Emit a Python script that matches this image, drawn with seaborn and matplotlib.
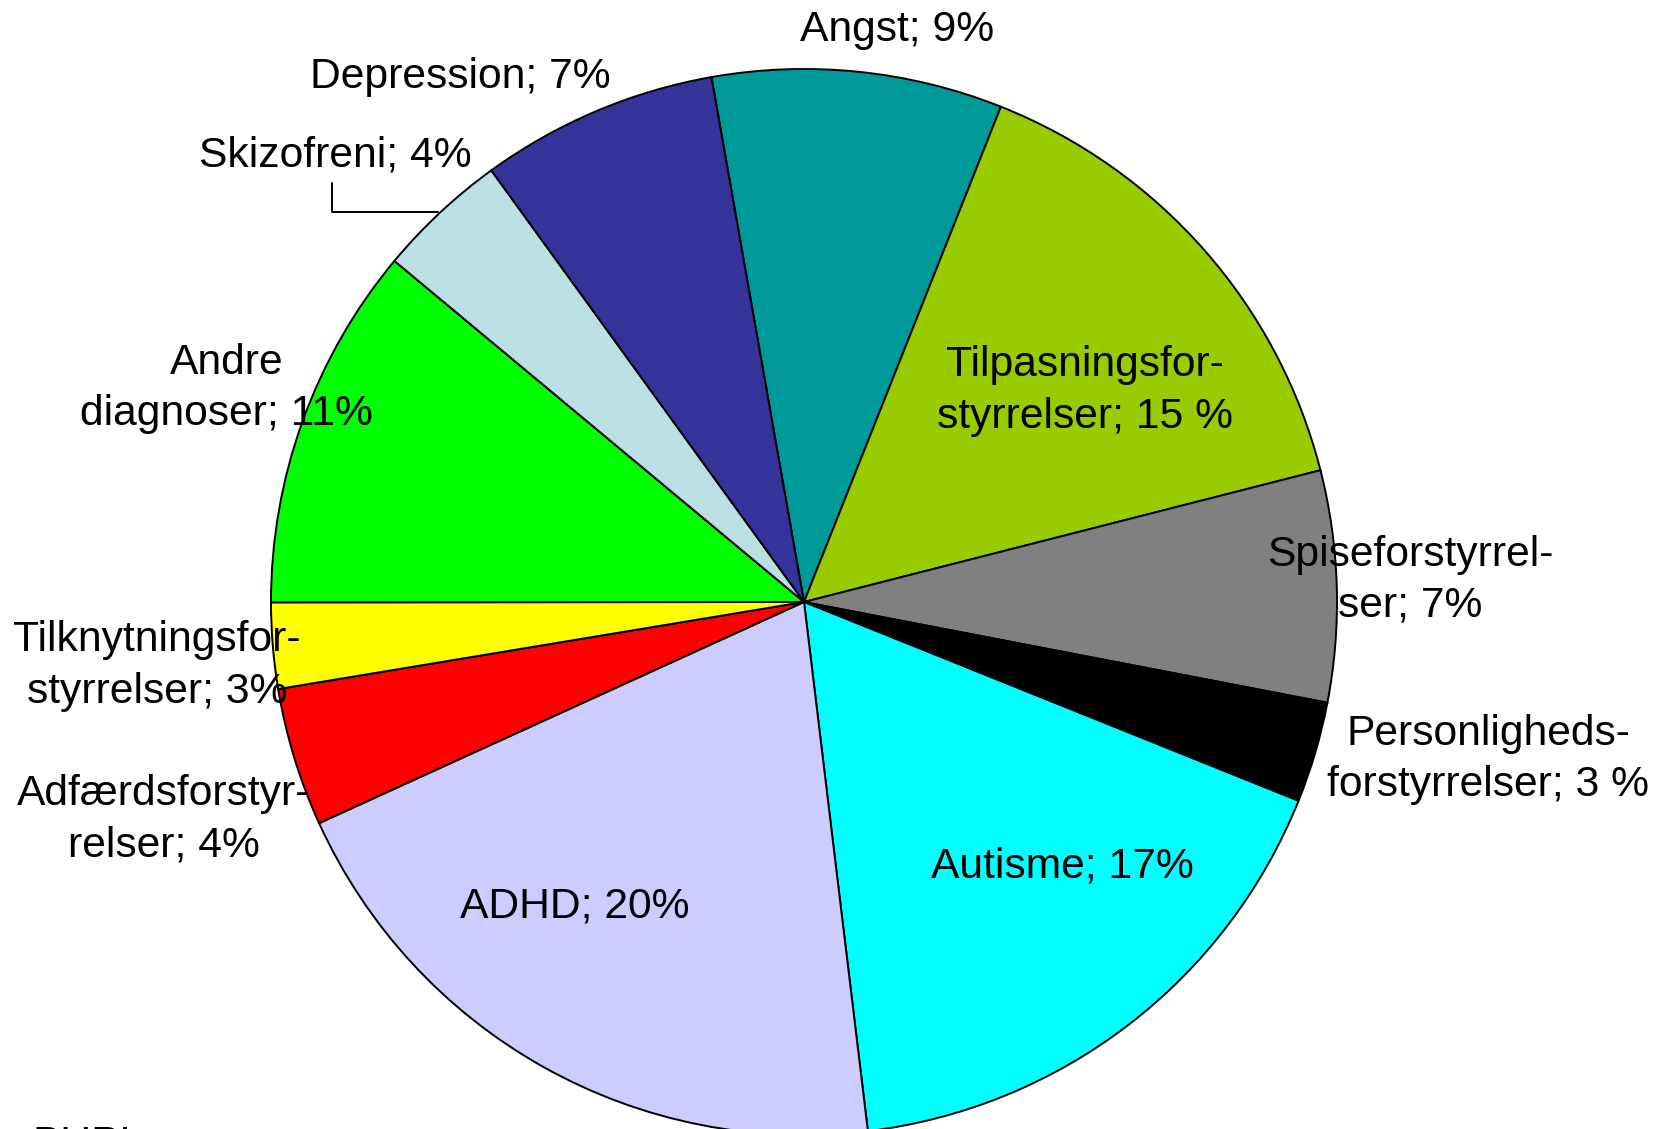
import matplotlib
matplotlib.use("Agg")
import matplotlib.pyplot as plt
import seaborn as sns

# diagnoser, i urets retning fra kl. 12 (Angst starter ved ca. 100 grader)
diagnoser = ["Angst", "Tilpasningsforstyrrelser", "Spiseforstyrrelser",
             "Personlighedsforstyrrelser", "Autisme", "ADHD",
             "Adfærdsforstyrrelser", "Tilknytningsforstyrrelser",
             "Andre diagnoser", "Skizofreni", "Depression"]
andele = [8.8, 15.0, 7.0, 3.06, 17.0, 20.1, 4.2, 2.6, 11.06, 3.97, 7.2]
etiketter = ["Angst; 9%", "Tilpasningsfor-\nstyrrelser; 15 %", "Spiseforstyrrel-\nser; 7%",
             "Personligheds-\nforstyrrelser; 3 %", "Autisme; 17%", "ADHD; 20%",
             "Adfærdsforstyr-\nrelser; 4%", "Tilknytningsfor-\nstyrrelser; 3%",
             "Andre\ndiagnoser; 11%", "Skizofreni; 4%", "Depression; 7%"]
farver = ["#009999", "#99CC00", "#808080", "#000000", "#00FFFF", "#CCCCFF",
          "#FF0000", "#FFFF00", "#00FF00", "#BBE0E3", "#333399"]

# etiketternes placering (pie-koordinater, radius 1)
etiket_pos = [(0.174, 1.073), (0.527, 0.396), (1.137, 0.041), (1.284, -0.295),
              (0.484, -0.496), (-0.430, -0.571), (-1.201, -0.409), (-1.214, -0.120),
              (-1.083, 0.401), (-0.880, 0.838), (-0.645, 0.985)]

sns.set_theme(style="white")
plt.rcParams['font.family'] = ['Liberation Sans', 'DejaVu Sans']

fig = plt.figure(figsize=(16.64, 11.29), dpi=100)
ax = fig.add_axes([0, 0, 1, 1])

ax.pie(andele, colors=farver, startangle=100, counterclock=False,
       wedgeprops=dict(edgecolor="black", linewidth=1.4))

for tekst, (x, y) in zip(etiketter, etiket_pos):
    ax.text(x, y, tekst, ha="center", va="center", fontsize=30.7, linespacing=1.36, color="black")

# streg til Skizofreni
ax.plot([-0.886, -0.886, -0.687], [0.786, 0.732, 0.732], color="black", linewidth=1.4)

# afskåret kildetekst nederst
ax.text(-1.447, -0.981, "BUPL", ha="left", va="top", fontsize=30.7, color="black")

ax.set_xlim(-804 / 533, 860 / 533)
ax.set_ylim(-527 / 533, 602 / 533)
ax.set_aspect("equal")
ax.axis("off")

fig.savefig("out.png", dpi=100)
